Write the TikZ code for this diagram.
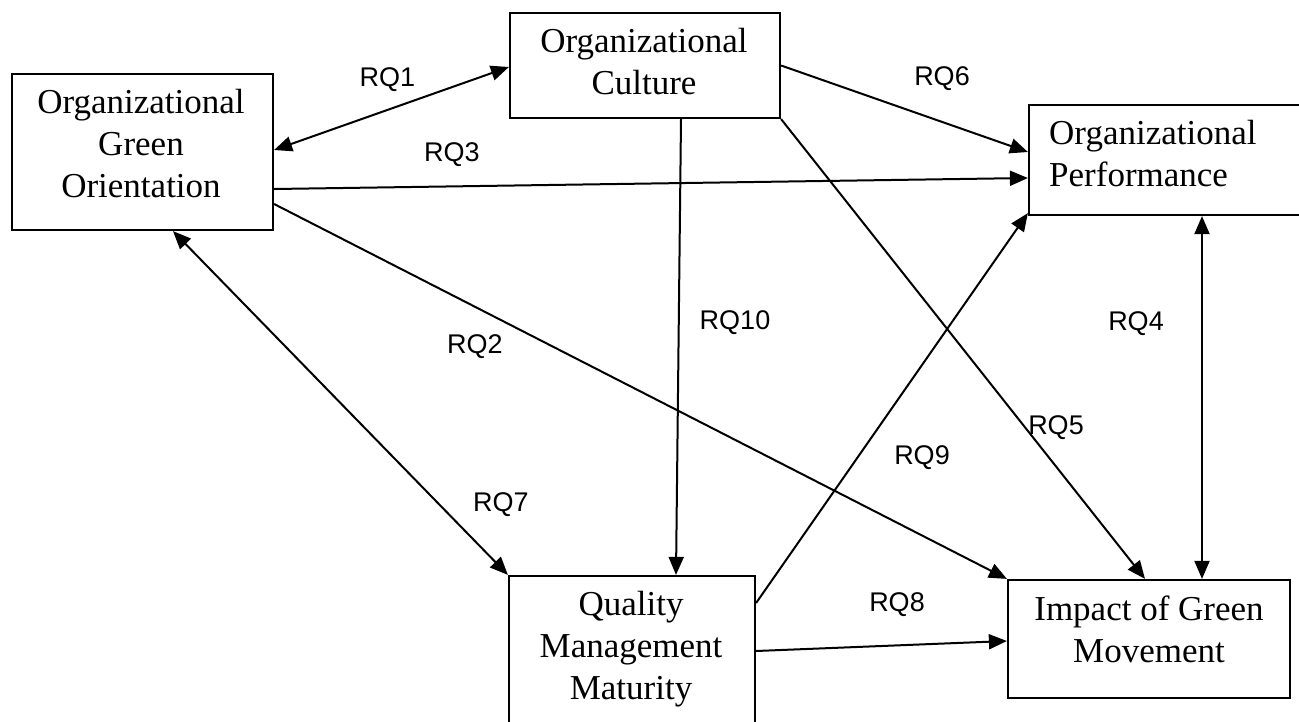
\documentclass[tikz,border=0pt]{standalone}
\usepackage{fontspec}
\setmainfont{Liberation Serif}
\newfontfamily\labfont{Liberation Sans}
\usetikzlibrary{arrows.meta}
\begin{document}
\begin{tikzpicture}[x=1pt,y=-1pt,
  box/.style={draw, line width=2.2pt, inner sep=0pt},
  btext/.style={font=\fontsize{35}{42}\selectfont, align=center, inner sep=0pt},
  lab/.style={font=\labfont\fontsize{27}{32}\selectfont, inner sep=0pt},
  tipA/.tip={Triangle[length=18pt,width=15pt]},
  conn/.style={line width=2pt, -tipA},
  dbl/.style={line width=2pt, tipA-tipA}
]
\useasboundingbox (0,0) rectangle (1299,721);
\fill[white] (0,0) rectangle (1299,721);
\clip (0,0) rectangle (1299,721);

% boxes
\node[box, minimum width=261pt, minimum height=156pt] (ogo) at (142.5,152) {};
\node[box, minimum width=270pt, minimum height=105pt] (oc) at (645,65.5) {};
\node[box, minimum width=281pt, minimum height=110pt] (op) at (1169.5,160) {};
\node[box, minimum width=246pt, minimum height=164pt] (qmm) at (632,658) {};
\node[box, minimum width=282pt, minimum height=118pt] (igm) at (1149,639) {};

% box texts
\node[btext] (ogoT) at (141,144) {Organizational\\Green\\Orientation};
\node[btext] (ocT) at (644,62) {Organizational\\Culture};
\node[btext, align=left, anchor=west] (opT) at (1049,153.5) {Organizational\\Performance};
\node[btext] (qmmT) at (631,649) {Quality\\Management\\Maturity};
\node[btext] (igmT) at (1149,629) {Impact of Green\\Movement};

% connectors
\draw[dbl] ([yshift=2pt]ogo.east) -- ([yshift=-1.5pt]oc.west);
\draw[conn] (oc.east) -- ([yshift=8pt]op.west);
\draw[conn] ([yshift=-37pt]ogo.east) -- ([yshift=-18pt]op.west);
\draw[conn] ([yshift=-52pt]ogo.east) -- (igm.north west);
\draw[conn] ([xshift=36pt]oc.south) -- ([xshift=44pt]qmm.north);
\draw[conn] (oc.south east) -- ([xshift=-4pt]igm.north);
\draw[dbl] ([xshift=32.5pt]op.south) -- ([xshift=53pt]igm.north);
\draw[dbl] ([xshift=30.5pt]ogo.south) -- (qmm.north west);
\draw[conn] ([yshift=55pt]qmm.east) -- ([yshift=3pt]op.south west);
\draw[conn] ([yshift=7pt]qmm.east) -- ([yshift=-2pt]igm.west);

% labels
\node[lab] (l1) at (387.5,80) {RQ1};
\node[lab] (l6) at (942,79) {RQ6};
\node[lab] (l3) at (452,155) {RQ3};
\node[lab] (l10) at (735,323) {RQ10};
\node[lab] (l4) at (1136,324) {RQ4};
\node[lab] (l2) at (475,347) {RQ2};
\node[lab] (l5) at (1056,428) {RQ5};
\node[lab] (l9) at (922,458) {RQ9};
\node[lab] (l7) at (501,505) {RQ7};
\node[lab] (l8) at (897,605) {RQ8};
\end{tikzpicture}
\end{document}
